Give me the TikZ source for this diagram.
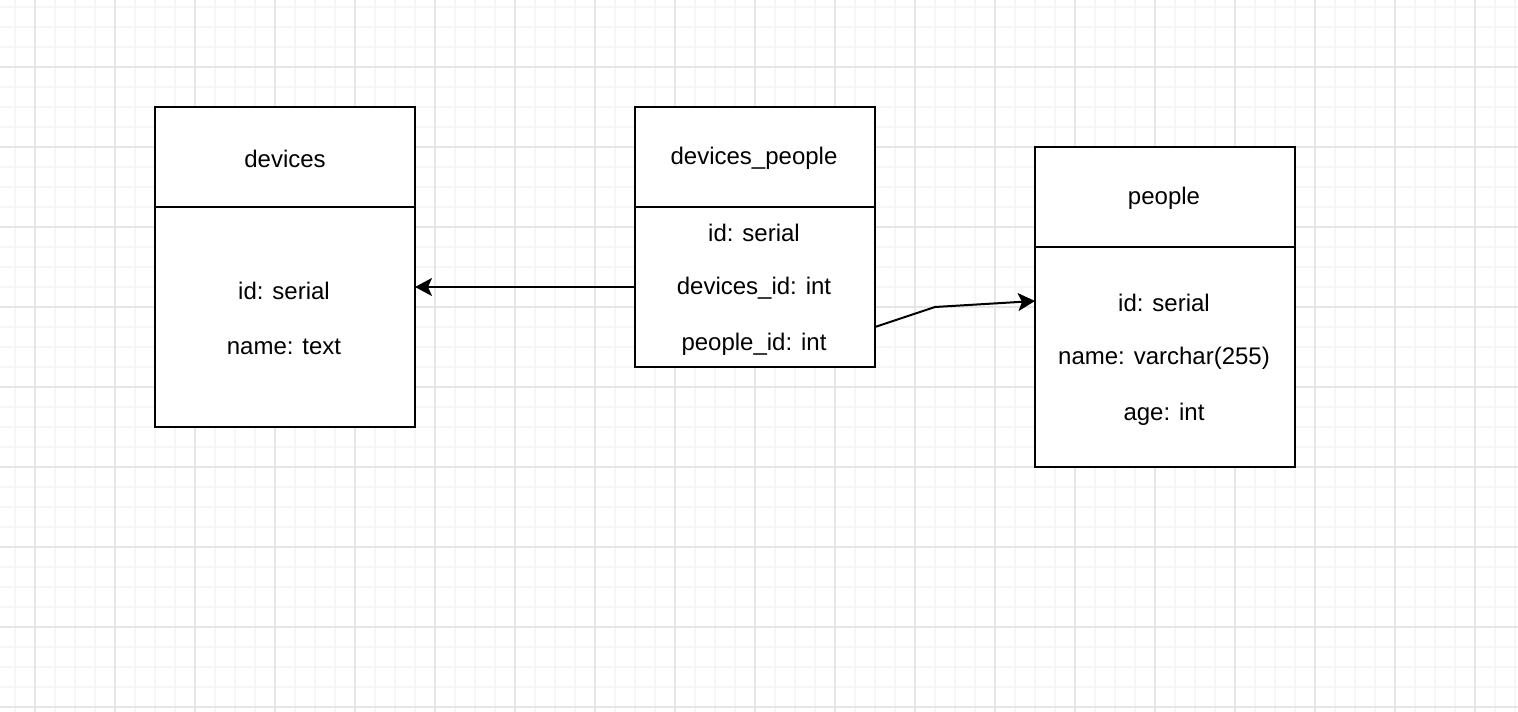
\documentclass[tikz,border=0pt]{standalone}
\usepackage{fontspec}
\setmainfont{Liberation Sans}
\usetikzlibrary{arrows.meta}
\definecolor{gridmajor}{HTML}{E6E6E6}
\definecolor{gridminor}{HTML}{F6F6F6}
\tikzset{
  box/.style={draw=black,line width=2pt,fill=white,rectangle,inner sep=0pt,outer sep=0pt},
  lbl/.style={font=\fontsize{24}{28}\selectfont,inner sep=0pt,anchor=center,yshift=-1.5pt},
  conn/.style={line width=2pt,-{Stealth[length=17pt,width=18pt,inset=4pt]}},
}
\begin{document}
\begin{tikzpicture}[x=1pt,y=-1pt]
\useasboundingbox (0,0) rectangle (1518,712);
\fill[white] (0,0) rectangle (1518,712);
% grid
\foreach \gx in {15,35,...,1515} \draw[gridminor,line width=1.5pt] (\gx,0) -- (\gx,712);
\foreach \gy in {7,27,...,707} \draw[gridminor,line width=1.5pt] (0,\gy) -- (1518,\gy);
\foreach \gx in {35,115,...,1515} \draw[gridmajor,line width=2pt] (\gx,0) -- (\gx,712);
\foreach \gy in {67,147,...,707} \draw[gridmajor,line width=2pt] (0,\gy) -- (1518,\gy);
% devices
\draw[box] (155,107) rectangle (415,427);
\node[box,draw=none,fill=none,minimum width=260pt,minimum height=320pt] (dev) at (285,267) {};
\draw[line width=2pt] (155,207) -- (415,207);
\node[lbl] (devh) at (285,157) {devices};
\node[lbl] (devid) at (284,289) {id: serial};
\node[lbl] (devname) at (284,345) {name: text};
% devices_people
\draw[box] (635,107) rectangle (875,367);
\node[box,draw=none,fill=none,minimum width=240pt,minimum height=260pt] (dp) at (755,237) {};
\draw[line width=2pt] (635,207) -- (875,207);
\node[lbl] (dph) at (754,157) {devices\_people};
\node[lbl] (dpid) at (754,231) {id: serial};
\node[lbl] (dpdev) at (754,287) {devices\_id: int};
\node[lbl] (dpppl) at (754,343) {people\_id: int};
% people
\draw[box] (1035,147) rectangle (1295,467);
\node[box,draw=none,fill=none,minimum width=260pt,minimum height=320pt] (ppl) at (1165,307) {};
\draw[line width=2pt] (1035,247) -- (1295,247);
\node[lbl] (pplh) at (1164,197) {people};
\node[lbl] (pplid) at (1164,301) {id: serial};
\node[lbl] (pplname) at (1164,357) {name: varchar(255)};
\node[lbl] (pplage) at (1164,413) {age: int};
% connectors
\draw[conn] (dp.west |- 0,287) -- (dev.east |- 0,287);
\coordinate (s2) at (875,327);
\coordinate (b2) at (935,307);
\draw[conn] (s2) -- (b2) -- (ppl.west |- 0,301);
\end{tikzpicture}
\end{document}
